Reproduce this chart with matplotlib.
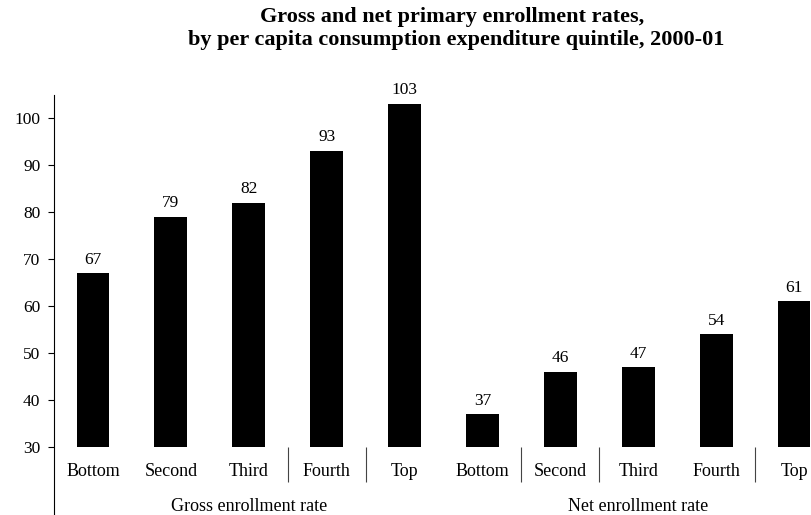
import matplotlib
matplotlib.use("Agg")
import matplotlib.pyplot as plt
import numpy as np

# Quintile labels and enrollment rates (%)
quintiles = ["Bottom", "Second", "Third", "Fourth", "Top"]
gross_rates = [67, 79, 82, 93, 103]
net_rates = [37, 46, 47, 54, 61]
group_names = ["Gross enrollment rate", "Net enrollment rate"]
y_ticks = [30, 40, 50, 60, 70, 80, 90, 100]
title_lines = ["Gross and net primary enrollment rates,",
               "by per capita consumption expenditure quintile, 2000-01"]

plt.rcParams["font.family"] = ["Liberation Serif", "DejaVu Serif"]

BASE = 30  # bars rise from the bottom of the value scale
values = gross_rates + net_rates
labels = quintiles + quintiles
x = np.arange(len(values))

fig = plt.figure(figsize=(8.12, 5.15), dpi=100)
ax = fig.add_axes([54 / 812, 0.0, 1 - 54 / 812, 1 - 95 / 515])

heights = [v - BASE for v in values]
ax.bar(x, heights, bottom=BASE, width=0.42, color="black")

for xi, v in zip(x, values):
    ax.annotate(str(v), (xi, v), xytext=(0, 4), textcoords="offset points",
                ha="center", va="bottom", fontsize=12.5)

ax.set_xlim(-0.5, 9.23)
ax.set_ylim(15.53, 104.9)
ax.set_yticks(y_ticks)
ax.tick_params(axis="y", direction="out", length=4.3, width=0.8, labelsize=12.5, pad=5.5)
ax.set_xticks([])

for side in ["top", "right", "bottom"]:
    ax.spines[side].set_visible(False)
ax.spines["left"].set_linewidth(0.8)

# quintile names under each bar
for xi, lab in zip(x, labels):
    ax.text(xi, 24.7, lab, ha="center", va="center", fontsize=13)

# group captions under each block of five
ax.text(2, 17.4, group_names[0], ha="center", va="center", fontsize=13)
ax.text(7, 17.4, group_names[1], ha="center", va="center", fontsize=13)

# leftover cell borders between some of the quintile names
ax.vlines([2.5, 3.5, 5.5, 6.5, 8.5], 22.6, 30, color="#444444", linewidth=0.8)

fig.text(452 / 812, 1 - 17 / 515, title_lines[0],
         ha="center", va="center", fontsize=16, fontweight="bold")
fig.text(456 / 812, 1 - 40.5 / 515, title_lines[1],
         ha="center", va="center", fontsize=16, fontweight="bold")

fig.savefig("out.png", dpi=100)
